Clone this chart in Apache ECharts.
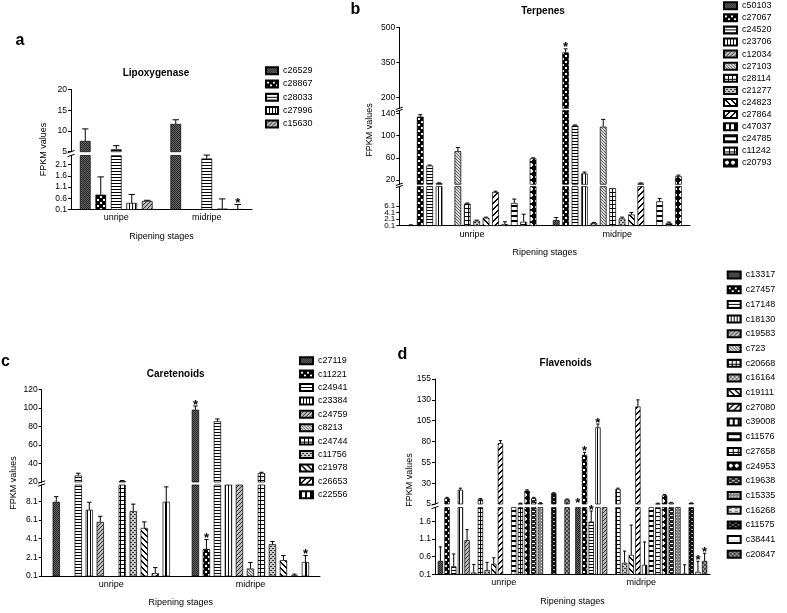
<!DOCTYPE html>
<html><head><meta charset="utf-8">
<script src="https://cdn.jsdelivr.net/npm/echarts@6/dist/echarts.min.js"></script>
<style>html,body{margin:0;padding:0;background:#fff}#c{width:787px;height:613px}</style>
</head><body><div id="c"></div>
<script>
const FF = '"Liberation Sans", Arial, Helvetica, sans-serif';
const stages = ['unripe', 'midripe'];

// ---------- a: Lipoxygenase ----------
const aGenes = ['c26529','c28867','c28033','c27996','c15630'];
const aUnripe = [7.6, 0.76, 5.6, 0.39, 0.48];
const aMidripe = [11.7, 0, 2.37, 0.14, 0.12];
const aErrUnripe = [2.9, 0.79, 0.85, 0.38, 0.03];
const aErrMidripe = [1.0, 0, 0.15, 0.43, 0.2];
const aStarUnripe = [0,0,0,0,0];
const aStarMidripe = [0,0,0,0,1];
const aTicksUpper = [5,10,15,20];
const aTicksLower = [0.1,0.6,1.1,1.6,2.1];

// ---------- b: Terpenes ----------
const bGenes = ['c50103','c27067','c24520','c23706','c12034','c27103','c28114','c21277','c24823','c27864','c47037','c24785','c11242','c20793'];
const bUnripe = [0.3, 134, 46, 14.5, 0, 72, 6.8, 1.6, 2.5, 10.3, 0.6, 7, 1.3, 59];
const bMidripe = [1.8, 393, 118, 32, 0.9, 116, 11.5, 2.3, 3.5, 14, 0, 7.5, 0.9, 27];
const bErrUnripe = [0.05, 3.5, 1, 0.6, 0, 6.5, 0.2, 0.2, 0.2, 0.3, 0.7, 1.2, 2.3, 1];
const bErrMidripe = [0.8, 15, 1, 2.5, 0.2, 13, 0, 0.4, 0.6, 1, 0, 0.9, 0.3, 2];
const bStarUnripe = [0,0,0,0,0,0,0,0,0,0,0,0,0,0];
const bStarMidripe = [0,1,0,0,0,0,0,0,0,0,0,0,0,0];
const bTicksUpper = [200,350,500];
const bTicksMiddle = [20,60,100,140];
const bTicksLower = [0.1,2.1,4.1,6.1];

// ---------- c: Caretenoids ----------
const cGenes = ['c27119','c11221','c24941','c23384','c24759','c8213','c24744','c11756','c21978','c26653','c22556'];
const cUnripe = [8.05, 0, 27, 7.2, 5.9, 0, 21, 7.05, 5.25, 0.4, 8.05];
const cMidripe = [98, 3.0, 85.5, 15, 15, 0.9, 29.5, 3.5, 1.8, 0.15, 1.6];
const cErrUnripe = [0.55, 0, 2.5, 0.8, 0.6, 0, 0.6, 0.75, 0.65, 0.6, 1.6];
const cErrMidripe = [4, 1.0, 2.5, 0, 0, 0.65, 1, 0.3, 0.5, 0.15, 0.7];
const cStarUnripe = [0,0,0,0,0,0,0,0,0,0,0];
const cStarMidripe = [1,1,0,0,0,0,0,0,0,0,1];
const cTicksUpper = [20,40,60,80,100,120];
const cTicksLower = [0.1,2.1,4.1,6.1,8.1];

// ---------- d: Flavenoids ----------
const dGenes = ['c13317','c27457','c17148','c18130','c19583','c723','c20668','c16164','c19111','c27080','c39008','c11576','c27658','c24953','c19638','c15335','c16268','c11575','c38441','c20847'];
const dUnripe = [0.48, 12, 0.33, 22, 1.07, 0.15, 11, 0.22, 0.4, 78, 0, 3, 5.5, 21, 12, 6, 0, 18, 0, 10.5];
const dMidripe = [3, 64, 1.6, 97, 3, 0, 23, 0.43, 0.65, 122, 0.37, 3, 5.5, 15.5, 6.5, 3, 0.12, 6, 0.17, 0.48];
const dErrUnripe = [0.4, 1, 0.35, 2, 0.3, 0.23, 0.5, 0.22, 0.17, 3, 0, 0, 0.5, 1, 1, 0.5, 0, 0.5, 0, 0.5];
const dErrMidripe = [0, 3, 0.3, 4, 0, 0, 1, 0.33, 0.85, 8, 0.65, 0, 0.5, 1, 0.5, 0, 0.25, 0.3, 0.3, 0.22];
const dStarUnripe = [0,0,0,0,0,0,0,0,0,0,0,0,0,0,0,0,0,0,0,0];
const dStarMidripe = [1,1,1,1,0,0,0,0,0,0,0,0,0,0,0,0,0,0,1,1];
const dTicksUpper = [5,30,55,80,105,130,155];
const dTicksLower = [0.1,0.6,1.1,1.6];

// ---------- fill patterns (styles) ----------
function mk(w, h, bg, fn) {
  const c = document.createElement('canvas'); c.width = w; c.height = h;
  const g = c.getContext('2d'); g.fillStyle = bg; g.fillRect(0, 0, w, h);
  if (fn) fn((col, x, y, ww, hh) => { g.fillStyle = col; g.fillRect(x, y, ww, hh); });
  return { image: c, repeat: 'repeat' };
}
function stripe(n, thick, fg, bg, forward) {
  return mk(n, n, bg, r => { for (let y = 0; y < n; y++) for (let k = 0; k < thick; k++) { const x = forward ? ((n - 1 - y + k) % n) : ((y + k) % n); r(fg, x, y, 1, 1); } });
}
const PAT = {
  dark: mk(2,2,'#666', r=>{r('#262626',0,0,1,1); r('#262626',1,1,1,1);}),
  check: mk(6,6,'#000', r=>{r('#fff',1,1,2,2); r('#fff',4,4,2,2);}),
  hline: mk(1,3,'#fff', r=>r('#000',0,0,1,1)),
  vline: mk(3,1,'#fff', r=>r('#000',0,0,1,1)),
  diag: stripe(4,1,'#333','#bbb',true),
  diagL: stripe(3,1,'#666','#d8d8d8',false),
  grid: mk(4,4,'#fff', r=>{r('#000',0,0,4,1); r('#000',0,0,1,4);}),
  dots: mk(4,4,'#c8c8c8', r=>{r('#333',0,0,2,1); r('#333',2,2,2,1);}),
  bslash: stripe(6,2,'#000','#fff',false),
  slash: stripe(6,2,'#000','#fff',true),
  vthick: mk(5,1,'#fff', r=>r('#000',0,0,2,1)),
  hthick: mk(1,5,'#fff', r=>r('#000',0,0,1,2)),
  hbox: mk(5,4,'#fff', r=>{r('#000',0,0,5,1); r('#000',0,0,1,4);}),
  xx: mk(6,6,'#000', r=>{r('#fff',2,1,2,1); r('#fff',1,2,4,2); r('#fff',2,4,2,1);}),
  dash: mk(6,4,'#222', r=>{r('#fff',1,1,3,1); r('#fff',4,3,2,1); r('#fff',0,3,1,1);}),
  gray: mk(3,3,'#888', r=>{r('#ddd',1,1,1,1);}),
  light: mk(6,3,'#e6e6e6', r=>{r('#555',1,1,3,1);}),
  blk: mk(6,4,'#111', r=>{r('#aaa',1,1,2,1); r('#aaa',4,3,2,1);}),
  wdot: mk(3,4,'#fff', r=>{r('#999',0,0,1,1);}),
  gchk: mk(4,4,'#999', r=>{r('#444',0,0,2,2); r('#444',2,2,2,2);})
};
const aPat = ['dark','check','hline','vline','diag'];
const bPat = ['dark','check','hline','vline','diag','diagL','grid','dots','bslash','slash','vthick','hthick','hbox','xx'];
const cPat = ['dark','check','hline','vline','diag','diagL','grid','dots','bslash','slash','vthick'];
const dPat = ['dark','check','hline','vline','diag','diagL','grid','dots','bslash','slash','vthick','hthick','hbox','xx','dash','gray','light','blk','wdot','gchk'];

// ---------- panel layout ----------
const panels = [
  { genes:aGenes, vals:[aUnripe,aMidripe], errs:[aErrUnripe,aErrMidripe], stars:[aStarUnripe,aStarMidripe], pats:aPat,
    left:71, right:252, barWidth:10.7, step:15.5,
    segs:[{top:89.5,bottom:151.7,min:5,max:20,ticks:aTicksUpper},{top:155.5,bottom:209.5,min:0.1,max:2.5,ticks:aTicksLower}],
    title:{text:'Lipoxygenase',x:156,y:73}, letter:{text:'a',x:20,y:41}, ylab:{x:43.3,y:149.5},
    legend:{left:265,top:65.7,gap:3.3,w:12} },
  { genes:bGenes, vals:[bUnripe,bMidripe], errs:[bErrUnripe,bErrMidripe], stars:[bStarUnripe,bStarMidripe], pats:bPat,
    left:399.3, right:690, barWidth:6.7, step:9.4,
    segs:[{top:27.3,bottom:108.3,min:155,max:500,ticks:bTicksUpper},{top:110.5,bottom:184.3,min:12.5,max:145,ticks:bTicksMiddle},{top:186.6,bottom:225.7,min:0.1,max:12,ticks:bTicksLower,fs:8,split:true}],
    title:{text:'Terpenes',x:543,y:11.7}, letter:{text:'b',x:355.5,y:10}, ylab:{x:370,y:130},
    legend:{left:723,top:0.7,gap:2.1,w:13} },
  { genes:cGenes, vals:[cUnripe,cMidripe], errs:[cErrUnripe,cErrMidripe], stars:[cStarUnripe,cStarMidripe], pats:cPat,
    left:41.7, right:320, barWidth:7.3, step:11.0,
    segs:[{top:389.3,bottom:482,min:20,max:120,ticks:cTicksUpper},{top:485,bottom:576,min:0.1,max:9.85,ticks:cTicksLower}],
    title:{text:'Caretenoids',x:175.7,y:374}, letter:{text:'c',x:5.5,y:362}, ylab:{x:13.3,y:483},
    legend:{left:299,top:355.7,gap:3.4,w:13} },
  { genes:dGenes, vals:[dUnripe,dMidripe], errs:[dErrUnripe,dErrMidripe], stars:[dStarUnripe,dStarMidripe], pats:dPat,
    left:435, right:710, barWidth:5.3, step:6.67,
    segs:[{top:379,bottom:504,min:5,max:155,ticks:dTicksUpper},{top:507.5,bottom:574.3,min:0.1,max:2.0,ticks:dTicksLower}],
    title:{text:'Flavenoids',x:565.7,y:363.3}, letter:{text:'d',x:402.5,y:355}, ylab:{x:409.3,y:480},
    legend:{left:726.7,top:270,gap:4.7,w:13} }
];

const option = { animation:false, backgroundColor:'#fff', textStyle:{fontFamily:FF},
  grid:[], xAxis:[], yAxis:[], series:[], legend:[], graphic:[] };

function yLabel(values, fs) {
  return { customValues:values, color:'#000', fontSize:fs, lineHeight:fs - 1, margin:4, fontFamily:FF, interval:0,
    hideOverlap:false, showMinLabel:true, showMaxLabel:true, formatter:v => String(v) };
}

panels.forEach(p => {
  const n = p.genes.length;
  const barGap = ((p.step - p.barWidth) / p.barWidth * 100).toFixed(1) + '%';
  p.segs.forEach((s, si) => {
    const gi = option.grid.length;
    const isBottom = si === p.segs.length - 1;
    const fs = s.fs || 8.5;
    option.grid.push({ left:p.left, top:s.top, width:p.right - p.left, height:s.bottom - s.top, outerBoundsMode:'none', containLabel:false });
    option.xAxis.push({ gridIndex:gi, type:'category', data:stages, show:isBottom,
      axisLine:{ lineStyle:{ color:'#000', width:1 } },
      axisTick:{ alignWithLabel:true, length:3, lineStyle:{ color:'#000' } },
      axisLabel:{ color:'#000', fontSize:9, margin:4, fontFamily:FF },
      name: isBottom ? 'Ripening stages' : '', nameLocation:'middle', nameGap:27,
      nameTextStyle:{ color:'#000', fontSize:9, verticalAlign:'middle', fontFamily:FF } });
    const yi = option.yAxis.length;
    const mainLabels = s.split ? s.ticks.filter((_, i) => i % 2 === 0) : s.ticks;
    option.yAxis.push({ gridIndex:gi, type:'value', min:s.min, max:s.max, position:'left',
      axisLine:{ show:true, lineStyle:{ color:'#000', width:1 } },
      axisTick:{ show:true, length:3, customValues:s.ticks, lineStyle:{ color:'#000' } },
      axisLabel:yLabel(mainLabels, fs), splitLine:{ show:false } });
    if (s.split) {
      option.yAxis.push({ gridIndex:gi, type:'value', min:s.min, max:s.max, position:'left', offset:0,
        axisLine:{ show:false }, axisTick:{ show:false },
        axisLabel:yLabel(s.ticks.filter((_, i) => i % 2 === 1), fs), splitLine:{ show:false } });
    }
    p.genes.forEach((g, k) => {
      option.series.push({ type:'bar', name:g, xAxisIndex:gi, yAxisIndex:yi, clip:true, silent:true,
        data: stages.map((_, c) => p.vals[c][k] ? p.vals[c][k] : '-'),
        barWidth:p.barWidth, barGap:barGap,
        itemStyle:{ color:PAT[p.pats[k]], borderColor:'#000', borderWidth:0.7 } });
    });
    const items = [];
    stages.forEach((_, c) => p.genes.forEach((g, k) => {
      const v = p.vals[c][k]; if (!v) return;
      const e = p.errs[c][k], st = p.stars[c][k];
      if (v >= s.min && v <= s.max) { if (e || st) items.push([c, v, e, st, k]); }
      else if (st && v < s.min && !isBottom && v > p.segs[si + 1].max) items.push([c, s.min, 0, st, k]);
    }));
    const step = p.step, cap = p.barWidth * 0.3;
    option.series.push({ type:'custom', xAxisIndex:gi, yAxisIndex:yi, data:items, clip:false, silent:true, z:5,
      renderItem: (params, api) => {
        const c = api.value(0), v = api.value(1), e = api.value(2), st = api.value(3), k = api.value(4);
        const base = api.coord([c, v]), top = api.coord([c, v + e]);
        const x = base[0] + (k - (n - 1) / 2) * step;
        const ch = [];
        if (e > 0) {
          ch.push({ type:'line', shape:{ x1:x, y1:base[1], x2:x, y2:top[1] }, style:{ stroke:'#000', lineWidth:1 } });
          ch.push({ type:'line', shape:{ x1:x - cap, y1:top[1], x2:x + cap, y2:top[1] }, style:{ stroke:'#000', lineWidth:1 } });
        }
        if (st) ch.push({ type:'text', x:x, y:top[1] - 1, style:{ text:'*', align:'center', verticalAlign:'middle', font:'bold 13px ' + FF, fill:'#000' } });
        return { type:'group', children:ch };
      } });
  });
  // axis break marks
  for (let i = 0; i < p.segs.length - 1; i++) {
    [p.segs[i].bottom, p.segs[i + 1].top].forEach(y => {
      option.graphic.push({ type:'line', silent:true, shape:{ x1:p.left - 3.5, y1:y + 1.2, x2:p.left + 3.5, y2:y - 1.2 }, style:{ stroke:'#000', lineWidth:1 } });
    });
  }
  option.graphic.push({ type:'text', x:p.letter.x, y:p.letter.y, silent:true, style:{ text:p.letter.text, align:'center', verticalAlign:'middle', font:'bold 16px ' + FF, fill:'#000' } });
  option.graphic.push({ type:'text', x:p.title.x, y:p.title.y, silent:true, style:{ text:p.title.text, align:'center', verticalAlign:'middle', font:'bold 10px ' + FF, fill:'#000' } });
  option.graphic.push({ type:'text', x:p.ylab.x, y:p.ylab.y, rotation:Math.PI / 2, silent:true, style:{ text:'FPKM values', align:'center', verticalAlign:'middle', font:'9px ' + FF, fill:'#000' } });
  option.legend.push({ orient:'vertical', left:p.legend.left, top:p.legend.top, itemWidth:p.legend.w, itemHeight:7,
    itemGap:p.legend.gap, selectedMode:false, icon:'rect', padding:0,
    textStyle:{ fontSize:9, lineHeight:10, color:'#000', fontFamily:FF },
    data:p.genes.map(name => ({ name, icon:'rect' })) });
});

const chart = echarts.init(document.getElementById('c'), null, { renderer:'canvas' });
chart.setOption(option);
</script></body></html>
